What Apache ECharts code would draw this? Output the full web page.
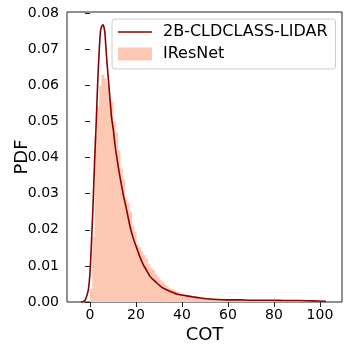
<!DOCTYPE html>
<html><head><meta charset="utf-8">
<script src="https://cdn.jsdelivr.net/npm/echarts@6/dist/echarts.min.js"></script>
<style>html,body{margin:0;padding:0;background:#fff}#c{width:352px;height:352px}</style>
</head><body><div id="c"></div>
<script>
const xTicks = [0, 20, 40, 60, 80, 100];
const yTicks = [0, 0.01, 0.02, 0.03, 0.04, 0.05, 0.06, 0.07, 0.08];
const histStart = 0;
const histBinWidth = 1;
const histValues = [
  0.0036, 0.018, 0.046, 0.054, 0.060, 0.063, 0.062, 0.0607, 0.056, 0.0555,
  0.050, 0.047, 0.042, 0.037, 0.034, 0.029, 0.0275, 0.025, 0.021, 0.0195,
  0.016, 0.0152, 0.0140, 0.0130, 0.0120, 0.0105, 0.0094, 0.0089, 0.0078, 0.0070,
  0.0062, 0.0055, 0.0049, 0.0043, 0.0039, 0.0036, 0.0033, 0.0030, 0.0027, 0.0024,
  0.0022, 0.0021, 0.0019, 0.0018, 0.0017, 0.0015, 0.0014, 0.0014, 0.0013, 0.0012,
  0.0011, 0.0011, 0.0010, 0.0010, 0.0009, 0.0009, 0.0008, 0.0008, 0.0008, 0.0007,
  0.0007, 0.0007, 0.0006, 0.0006, 0.0006, 0.0006, 0.0006, 0.0005, 0.0005, 0.0005,
  0.0005, 0.0005, 0.0005, 0.0005, 0.0004, 0.0004, 0.0004, 0.0004, 0.0004, 0.0004,
  0.0004, 0.0004, 0.0004, 0.0004, 0.0004, 0.0003, 0.0003, 0.0003, 0.0003, 0.0003,
  0.0003, 0.0003, 0.0003, 0.0003, 0.0003, 0.0002, 0.0002, 0.0002, 0.0002, 0.0002
];
const kdeX = [-4, -3, -2.2, -1.45, -0.7, 0, 0.7, 1.45, 2.0, 2.6, 3.3, 4.0, 4.6, 5.2, 5.7, 6.2, 6.5, 7.2, 8.0, 8.7,
  9.4, 10.1, 10.9, 11.6, 13.0, 14.5, 15.9, 17.4, 18.8, 20.3, 21.7, 23.2, 24.6, 26.1, 27.5, 29, 31, 32, 33.3, 35,
  37.7, 39.1, 42, 44.9, 48, 50.7, 55, 59.4, 65, 70, 79.7, 85, 91.3, 97, 102.6];
const kdeY = [0, 0.0001, 0.0004, 0.0016, 0.0034, 0.008, 0.0173, 0.029, 0.039, 0.048, 0.060, 0.0695, 0.0752, 0.0765, 0.0768, 0.0758, 0.0745, 0.068, 0.0617, 0.0563,
  0.051, 0.048, 0.0435, 0.0403, 0.0348, 0.0297, 0.0256, 0.021, 0.0177, 0.015, 0.0125, 0.0103, 0.0088, 0.0071, 0.0062, 0.0053, 0.0042, 0.0038, 0.0034, 0.0029,
  0.0022, 0.0020, 0.0017, 0.0014, 0.0011, 0.0009, 0.0007, 0.0006, 0.0006, 0.0005, 0.0005, 0.0004, 0.0004, 0.0003, 0.0002];

const lineName = '2B-CLDCLASS-LIDAR';
const histName = 'IResNet';
const lineColor = '#8b0000';
const histColor = '#fdc8b3';
const font = 'DejaVu Sans';

const histData = histValues.map((v, i) => [histStart + i * histBinWidth, histStart + (i + 1) * histBinWidth, v]);
const kdeData = kdeX.map((x, i) => [x, kdeY[i]]);

const chart = echarts.init(document.getElementById('c'), null, {renderer: 'canvas'});
chart.setOption({
  animation: false,
  backgroundColor: '#fff',
  grid: {left: 67, right: 10, top: 12, bottom: 50, containLabel: false, outerBoundsMode: 'none',
    show: true, borderColor: '#222', borderWidth: 1, backgroundColor: 'transparent'},
  legend: {
    orient: 'vertical', left: 112, top: 19,
    padding: [5, 8, 7, 6], itemWidth: 34, itemHeight: 13, itemGap: 6,
    symbolKeepAspect: true,
    borderColor: '#cccccc', borderWidth: 1, borderRadius: 3,
    backgroundColor: 'rgba(255,255,255,0.8)',
    textStyle: {fontSize: 16, fontFamily: font, color: '#000', padding: [0, 0, 0, 6]},
    data: [
      {name: lineName, icon: 'path://M0,0H34V1.7H0Z', itemStyle: {color: lineColor}},
      {name: histName, icon: 'rect', itemStyle: {color: histColor}}
    ]
  },
  xAxis: {
    type: 'value', min: -10, max: 109.6,
    name: 'COT', nameLocation: 'middle', nameGap: 24, nameMoveOverlap: false,
    nameTextStyle: {fontSize: 18, fontFamily: font, color: '#000'},
    axisLine: {show: false},
    splitLine: {show: false},
    axisTick: {show: true, length: 5, lineStyle: {color: '#222', width: 1}, customValues: xTicks},
    axisLabel: {fontSize: 14, fontFamily: font, color: '#000', margin: 6, customValues: xTicks}
  },
  yAxis: {
    type: 'value', min: 0, max: 0.08036,
    name: 'PDF', nameLocation: 'middle', nameGap: 36, nameMoveOverlap: false,
    nameTextStyle: {fontSize: 18, fontFamily: font, color: '#000'},
    axisLine: {show: false},
    splitLine: {show: false},
    axisTick: {show: true, length: 5, lineStyle: {color: '#222', width: 1}, customValues: yTicks},
    axisLabel: {fontSize: 14, fontFamily: font, color: '#000', margin: 8, customValues: yTicks,
      formatter: v => v.toFixed(2)}
  },
  series: [
    {
      name: histName, type: 'custom', z: 1,
      itemStyle: {color: histColor},
      data: histData,
      encode: {x: [0, 1], y: 2},
      renderItem: function (params, api) {
        const p0 = api.coord([api.value(0), api.value(2)]);
        const p1 = api.coord([api.value(1), 0]);
        return {
          type: 'rect',
          shape: {x: p0[0], y: p0[1], width: p1[0] - p0[0] + 0.6, height: p1[1] - p0[1]},
          style: {fill: histColor, stroke: null}
        };
      }
    },
    {
      name: lineName, type: 'line', z: 3,
      data: kdeData, showSymbol: false, symbol: 'none', smooth: 0.3,
      lineStyle: {color: lineColor, width: 1.6},
      itemStyle: {color: lineColor}
    }
  ]
});
</script></body></html>
